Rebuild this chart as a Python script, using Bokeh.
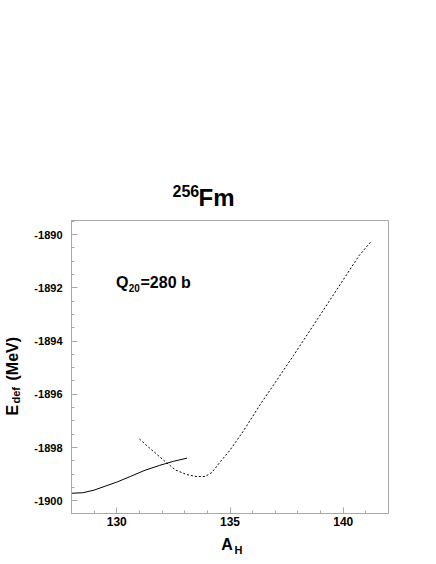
import math
from bokeh.plotting import figure
from bokeh.models import Label, SingleIntervalTicker, Range1d, PrintfTickFormatter
from bokeh.layouts import column, row
from bokeh.embed import file_html
from bokeh.resources import INLINE

# --- data ---
solid_x = [128.0, 128.5, 129.0, 129.5, 130.0, 130.6, 131.2, 131.9, 132.5, 133.1]
solid_y = [-1899.72, -1899.70, -1899.60, -1899.45, -1899.30, -1899.09, -1898.87, -1898.67, -1898.52, -1898.40]

dash_x = [131.0, 131.5, 132.1, 132.6, 133.1, 133.5, 133.9, 134.2, 134.55, 135.0, 135.6, 136.3, 137.8, 139.3, 140.7, 141.2]
dash_y = [-1897.68, -1898.06, -1898.50, -1898.85, -1899.02, -1899.09, -1899.09, -1898.94, -1898.56, -1898.10, -1897.37, -1896.43, -1894.55, -1892.61, -1890.79, -1890.29]

x_range = (128.0, 142.0)
y_range = (-1900.48, -1889.47)

GRAY = "#a8a8a8"
FONT = "Liberation Sans"


def blank(w, h):
    f = figure(width=w, height=h, output_backend="svg", toolbar_location=None,
               x_axis_type=None, y_axis_type=None, min_border=0,
               x_range=Range1d(0, w), y_range=Range1d(0, h))
    f.outline_line_color = None
    f.background_fill_color = "white"
    f.border_fill_color = "white"
    return f


def lab(fig, x, y, t, size, angle=0.0):
    fig.add_layout(Label(x=x, y=y, x_units="canvas", y_units="canvas", text=t,
                         text_font=FONT, text_font_style="bold",
                         text_font_size=size, text_color="black", text_baseline="alphabetic",
                         text_align="left", angle=angle))


# ---- main plot ----
p = figure(width=406, height=315, output_backend="svg", toolbar_location=None,
           x_range=Range1d(*x_range), y_range=Range1d(*y_range),
           min_border_left=41, min_border_right=48, min_border_top=2, min_border_bottom=20)
p.xgrid.visible = False
p.ygrid.visible = False
p.outline_line_color = GRAY
p.outline_line_width = 1
p.background_fill_color = "white"
p.border_fill_color = "white"

p.xaxis.ticker = SingleIntervalTicker(interval=5, num_minor_ticks=5)
p.yaxis.ticker = SingleIntervalTicker(interval=2, num_minor_ticks=4)
p.xaxis.formatter = PrintfTickFormatter(format="%d")
p.yaxis.formatter = PrintfTickFormatter(format="%d")
for ax in (p.xaxis[0], p.yaxis[0]):
    ax.axis_line_color = GRAY
    ax.major_tick_line_color = GRAY
    ax.minor_tick_line_color = GRAY
    ax.major_tick_in = 6
    ax.major_tick_out = 0
    ax.minor_tick_in = 3
    ax.minor_tick_out = 0
    ax.major_label_text_font = FONT
    ax.major_label_text_font_style = "bold"
    ax.major_label_text_color = "black"
p.xaxis.major_label_text_font_size = "12px"
p.yaxis.major_label_text_font_size = "11px"
p.yaxis.major_label_standoff = 9
p.xaxis.major_label_standoff = 3

p.line(solid_x, solid_y, line_color="black", line_width=1.0)
p.line(dash_x, dash_y, line_color="black", line_width=1.0, line_dash="2 2")

# Q20 = 280 b  (canvas of main plot starts at page x=30, y=218)
lab(p, 115.5 - 30, 282.0 - 218, "Q", "16px")
lab(p, 128.3 - 30, 287.0 - 218, "20", "10px")
lab(p, 140.0 - 30, 282.0 - 218, "=280 b", "16px")

# ---- title area ----
top = blank(436, 218)
lab(top, 172, 190, "256", "16px")
lab(top, 198, 196.5, "Fm", "24px")

# ---- y label area ----
yl = blank(30, 315)
lab(yl, 11.5, 415.0 - 218, "E", "16px", math.pi / 2)
lab(yl, 15.5, 403.0 - 218, "def", "11px", math.pi / 2)
lab(yl, 11.5, 380.0 - 218, "(MeV)", "16px", math.pi / 2)

# ---- x label area ----
xl = blank(436, 31)
lab(xl, 220.7, 543.5 - 533, "A", "16px")
lab(xl, 234.0, 549.5 - 533, "H", "11px")

layout = column(top, row(yl, p, spacing=0), xl, spacing=0)

open("out.html", "w").write(file_html(layout, INLINE))
